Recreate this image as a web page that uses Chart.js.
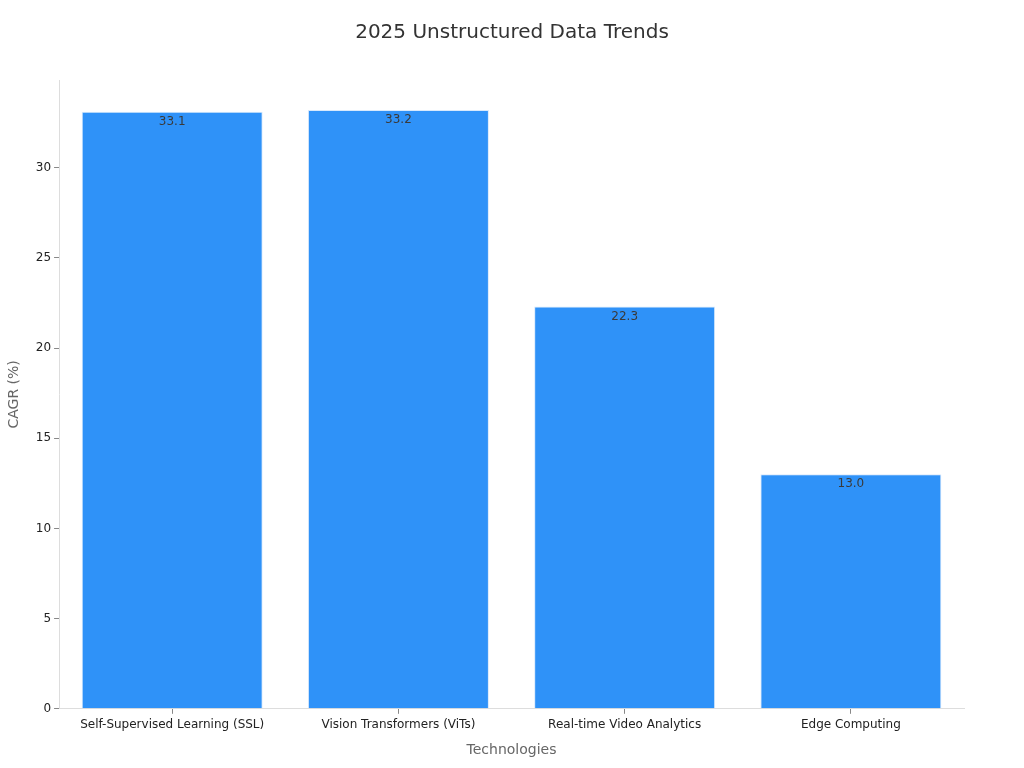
<!DOCTYPE html>
<html>
<head>
<meta charset="utf-8">
<script src="https://cdn.jsdelivr.net/npm/chart.js@4/dist/chart.umd.min.js"></script>
<style>
  html, body { margin: 0; padding: 0; background: #fff; }
  #wrap { width: 1024px; height: 768px; }
</style>
</head>
<body>
<div id="wrap"><canvas id="trendChart"></canvas></div>
<script>
const chartTitle = "2025 Unstructured Data Trends";
const categories = [
  "Self-Supervised Learning (SSL)",
  "Vision Transformers (ViTs)",
  "Real-time Video Analytics",
  "Edge Computing"
];
const cagrValues = [33.1, 33.2, 22.3, 13.0];
const yTicks = [0, 5, 10, 15, 20, 25, 30];

// value labels just inside the top of each bar
const barLabels = {
  id: "barLabels",
  afterDatasetsDraw(chart) {
    const ctx = chart.ctx;
    const meta = chart.getDatasetMeta(0);
    ctx.save();
    ctx.font = "12px 'DejaVu Sans'";
    ctx.fillStyle = "#3a3a3a";
    ctx.textAlign = "center";
    ctx.textBaseline = "top";
    meta.data.forEach((bar, i) => {
      ctx.fillText(cagrValues[i].toFixed(1), bar.x, bar.y + 4);
    });
    ctx.restore();
  }
};

// title centred on the whole canvas, not on the padded box
const pageTitle = {
  id: "pageTitle",
  afterDraw(chart) {
    const ctx = chart.ctx;
    ctx.save();
    ctx.font = "20px 'DejaVu Sans'";
    ctx.fillStyle = "#333";
    ctx.textAlign = "center";
    ctx.textBaseline = "middle";
    ctx.fillText(chartTitle, chart.width / 2, 33);
    ctx.restore();
  }
};

Chart.defaults.font.family = "'DejaVu Sans', sans-serif";

new Chart(document.getElementById("trendChart"), {
  type: "bar",
  data: {
    labels: categories,
    datasets: [{
      data: cagrValues,
      backgroundColor: "#2F92F8",
      borderColor: "#d8e9fc",
      borderWidth: 1,
      barPercentage: 0.8,
      categoryPercentage: 1.0
    }]
  },
  options: {
    responsive: true,
    maintainAspectRatio: false,
    animation: false,
    layout: { padding: { top: 80, right: 60, bottom: 5, left: 2 } },
    plugins: {
      legend: { display: false },
      tooltip: { enabled: false },
      title: { display: false }
    },
    scales: {
      x: {
        grid: { display: true, offset: false, drawOnChartArea: false, tickLength: 5, color: "#888" },
        border: { color: "#ddd" },
        ticks: { color: "#222", font: { size: 12 }, padding: 4 },
        title: { display: true, text: "Technologies", color: "#666", font: { size: 14 }, padding: { top: 6 } }
      },
      y: {
        min: 0,
        max: 34.86,
        afterBuildTicks: scale => { scale.ticks = yTicks.map(v => ({ value: v })); },
        grid: { display: true, drawOnChartArea: false, tickLength: 5, color: "#888" },
        border: { color: "#ddd" },
        ticks: { color: "#222", font: { size: 12 }, padding: 3 },
        title: { display: true, text: "CAGR (%)", color: "#666", font: { size: 14 }, padding: { bottom: 10 } }
      }
    }
  },
  plugins: [barLabels, pageTitle]
});
</script>
</body>
</html>
